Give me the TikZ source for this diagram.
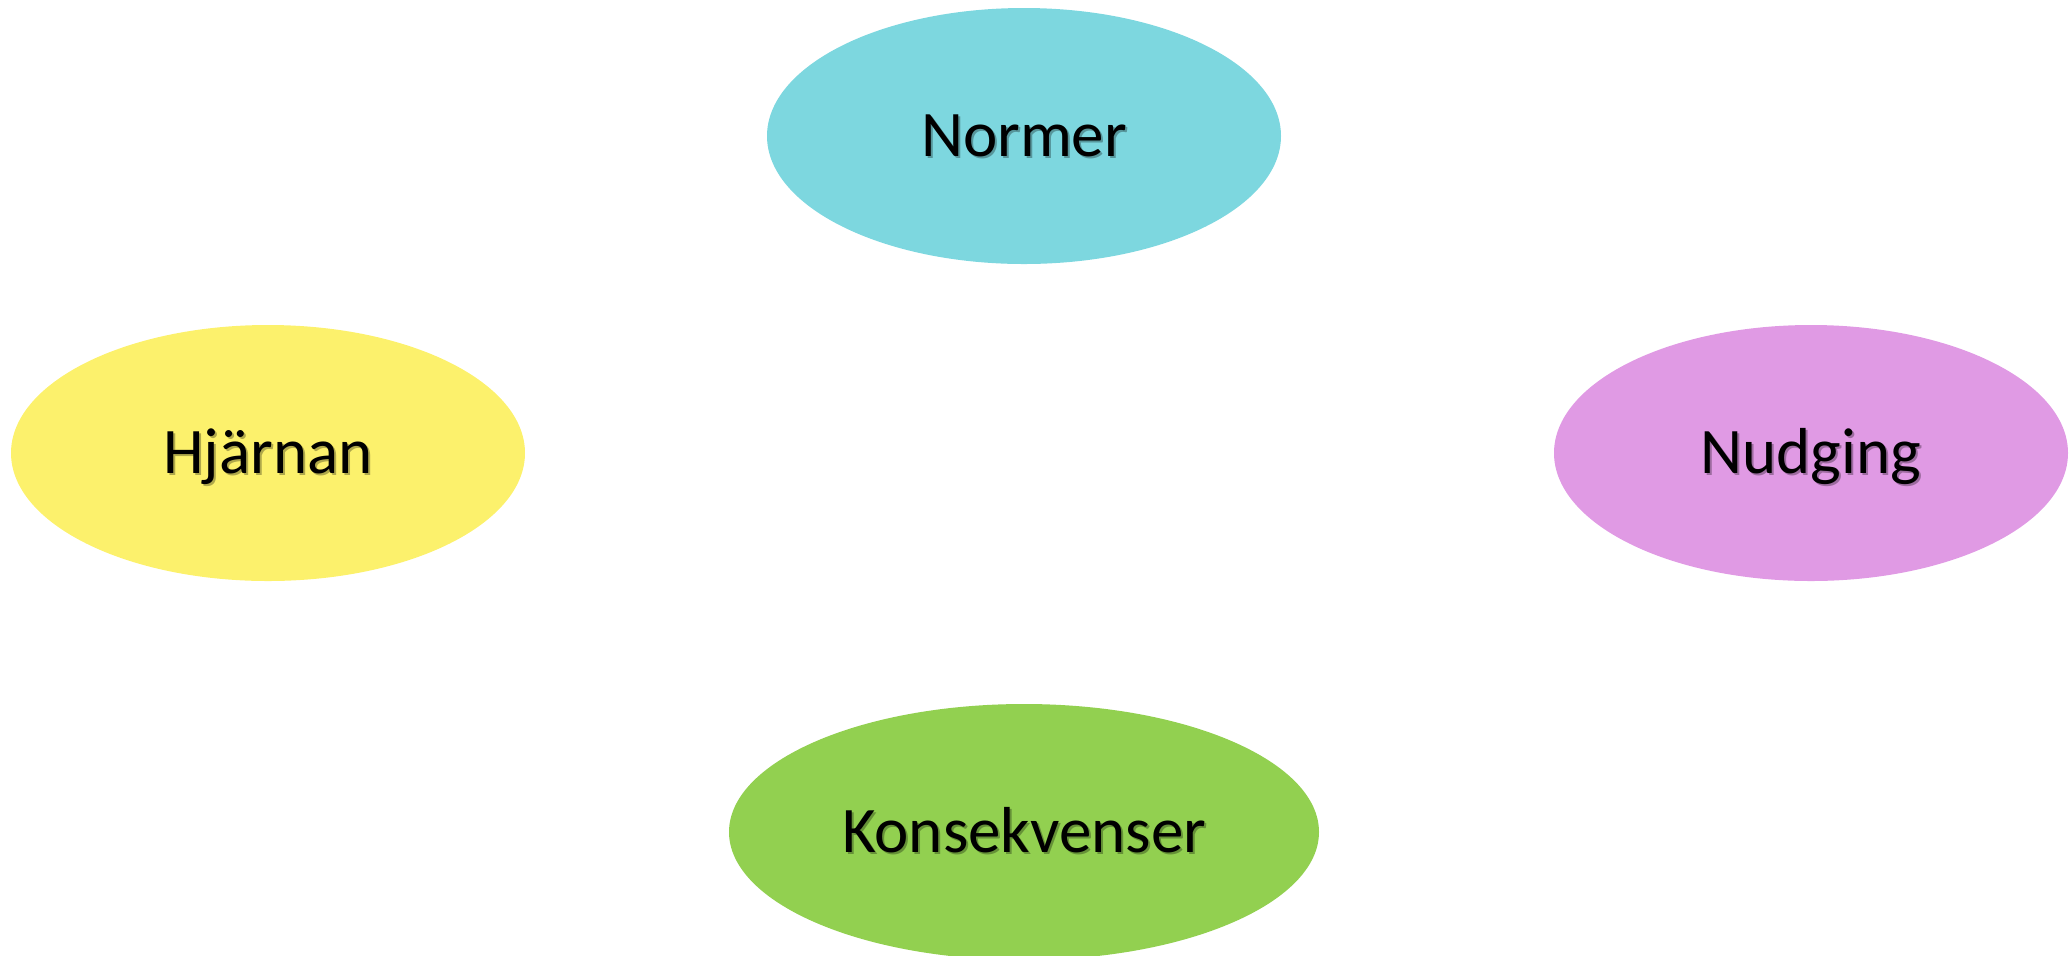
\documentclass[tikz,border=0pt]{standalone}
\usepackage{fontspec}
\setmainfont{Carlito}
\usetikzlibrary{shapes.geometric}

\definecolor{normcyan}{RGB}{125,215,223}
\definecolor{brainyellow}{RGB}{252,241,108}
\definecolor{nudgeviolet}{RGB}{224,154,228}
\definecolor{conseqgreen}{RGB}{146,208,80}

\begin{document}
\begin{tikzpicture}[x=0.5pt,y=-0.5pt]
    \tikzstyle{bubble}=[ellipse,draw=none,inner sep=0pt,minimum width=257pt,minimum height=128pt]
    \tikzstyle{word}=[font=\fontsize{32.5}{39}\selectfont,text height=20.5pt,text depth=0pt,inner sep=0pt]
    \useasboundingbox (0,0) rectangle (2069,955);
    \clip (0,0) rectangle (2069,955);
    \foreach \name/\x/\y/\w/\col/\txt in {N/1024/136/257/normcyan/Normer, H/268/453/257/brainyellow/Hjärnan, U/1811/453/257/nudgeviolet/Nudging, K/1024/832/295/conseqgreen/Konsekvenser}
    {
        \node[bubble,fill=\col,minimum width=\w pt] (B-\name) at (\x,\y) {};
        \node[word,text=black,opacity=0.3] (S-\name) at ([shift={(2,2)}]B-\name) {\txt};
        \node[word] (T-\name) at (B-\name) {\txt};
    }
\end{tikzpicture}
\end{document}
